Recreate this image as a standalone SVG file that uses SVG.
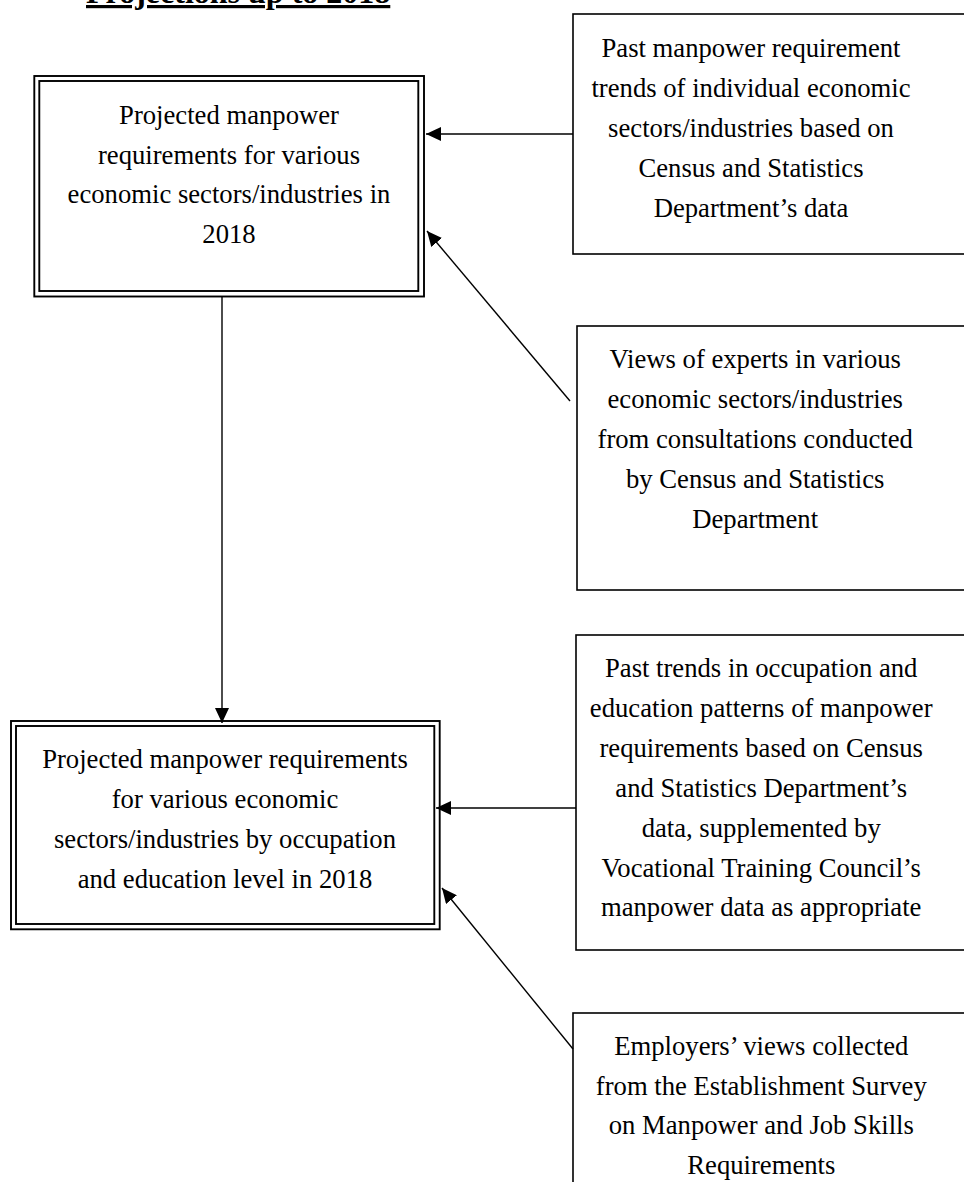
<svg xmlns="http://www.w3.org/2000/svg" width="964" height="1182" viewBox="0 0 964 1182">
<style>
  .t { font-family: "Liberation Serif", "Times New Roman", serif; font-size: 26.67px; fill: #000; text-anchor: middle; }
  .title { font-family: "Liberation Serif", "Times New Roman", serif; font-size: 32px; font-weight: bold; fill: #000; text-decoration: underline; }
  .box { fill: #fff; stroke: #000; stroke-width: 1.6; }
  .dbl { fill: none; stroke: #000; stroke-width: 1.9; }
  .conn { stroke: #000; stroke-width: 1.4; fill: none; marker-end: url(#arrow); }
</style>
<defs>
  <marker id="arrow" viewBox="0 0 15 14" refX="15" refY="7" markerWidth="15" markerHeight="14" markerUnits="userSpaceOnUse" orient="auto">
    <path d="M0,0 L15,7 L0,14 z" fill="#000"/>
  </marker>
</defs>
<rect width="964" height="1182" fill="#fff"/>
<text class="title" x="86" y="3">Projections up to 2018</text>

<g id="proj2018">
  <rect class="dbl" x="34.3" y="76" width="389.7" height="220.5" fill="#fff"/>
  <rect class="dbl" x="39.3" y="81" width="379" height="210"/>
  <text class="t" x="229" y="124">Projected manpower</text>
  <text class="t" x="229" y="163.5">requirements for various</text>
  <text class="t" x="229" y="203.3">economic sectors/industries in</text>
  <text class="t" x="229" y="243">2018</text>
</g>

<g id="pastTrends">
  <rect class="box" x="573" y="14" width="400" height="240"/>
  <text class="t" x="751" y="57.3">Past manpower requirement</text>
  <text class="t" x="751" y="97">trends of individual economic</text>
  <text class="t" x="751" y="136.7">sectors/industries based on</text>
  <text class="t" x="751" y="176.7">Census and Statistics</text>
  <text class="t" x="751" y="216.7">Department’s data</text>
</g>

<g id="expertViews">
  <rect class="box" x="577" y="326" width="400" height="264"/>
  <text class="t" x="755.2" y="368.3">Views of experts in various</text>
  <text class="t" x="755.2" y="408.3">economic sectors/industries</text>
  <text class="t" x="755.2" y="448.3">from consultations conducted</text>
  <text class="t" x="755.2" y="488.3">by Census and Statistics</text>
  <text class="t" x="755.2" y="528.3">Department</text>
</g>

<g id="projOccEdu">
  <rect class="dbl" x="11" y="721" width="428.7" height="208.3" fill="#fff"/>
  <rect class="dbl" x="16" y="726" width="418.3" height="198"/>
  <text class="t" x="225" y="768.3">Projected manpower requirements</text>
  <text class="t" x="225" y="808.3">for various economic</text>
  <text class="t" x="225" y="848">sectors/industries by occupation</text>
  <text class="t" x="225" y="887.5">and education level in 2018</text>
</g>

<g id="occEduTrends">
  <rect class="box" x="576" y="635" width="400" height="315"/>
  <text class="t" x="761.2" y="677.3">Past trends in occupation and</text>
  <text class="t" x="761.2" y="716.7">education patterns of manpower</text>
  <text class="t" x="761.2" y="756.7">requirements based on Census</text>
  <text class="t" x="761.2" y="796.5">and Statistics Department’s</text>
  <text class="t" x="761.2" y="836.5">data, supplemented by</text>
  <text class="t" x="761.2" y="876.5">Vocational Training Council’s</text>
  <text class="t" x="761.2" y="916">manpower data as appropriate</text>
</g>

<g id="employerViews">
  <rect class="box" x="573" y="1013" width="400" height="200"/>
  <text class="t" x="761.3" y="1055">Employers’ views collected</text>
  <text class="t" x="761.3" y="1094.5">from the Establishment Survey</text>
  <text class="t" x="761.3" y="1134.3">on Manpower and Job Skills</text>
  <text class="t" x="761.3" y="1174">Requirements</text>
</g>

<g id="connectors">
  <line class="conn" x1="573" y1="134" x2="426" y2="134"/>
  <line class="conn" x1="570" y1="401" x2="427" y2="231"/>
  <line class="conn" x1="222" y1="297" x2="222" y2="723"/>
  <line class="conn" x1="576" y1="808" x2="436" y2="808"/>
  <line class="conn" x1="573" y1="1049" x2="442" y2="888"/>
</g>
</svg>
